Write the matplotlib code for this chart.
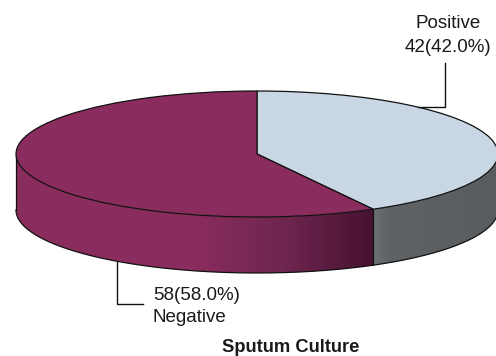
# import libraries
import numpy as np
import matplotlib.pyplot as plt
from matplotlib.colors import LinearSegmentedColormap
from matplotlib.patches import Polygon

labels = ['Positive', 'Negative']
counts = [42, 58]
chart_title = 'Sputum Culture'

TOP_COLORS = ['#c9d6e3', '#8b2c5e']
OUTLINE = '#111111'
DEPTH = 56 / 63  # rim height, in units of the vertical radius

# shading along the rim, left to right
rim_cmaps = {
    'Positive': LinearSegmentedColormap.from_list(
        'pos', [(0, '#6c7274'), (0.12, '#5f6366'), (1, '#595c5f')]),
    'Negative': LinearSegmentedColormap.from_list(
        'neg', [(0, '#8b2c5e'), (0.5, '#8a2c5d'), (0.75, '#6e2650'), (1, '#47112f')]),
}


def draw_rim(ax, start, end, cmap):
    """
    draw_rim fills the visible side of the disc between two angles (degrees)
    with a horizontal gradient clipped to the shape of the rim.
    """
    t = np.radians(np.linspace(start, end, 200))
    x, y = np.cos(t), np.sin(t)
    pts = np.r_[np.c_[x, y], np.c_[x[::-1], y[::-1] - DEPTH]]
    shape = Polygon(pts, closed=True, facecolor='none', edgecolor='none',
                    transform=ax.transData)
    ax.add_patch(shape)

    ramp = np.linspace(0, 1, 256).reshape(1, -1)
    img = ax.imshow(ramp, cmap=cmap, aspect='auto', zorder=1,
                    extent=[x.min(), x.max(), pts[:, 1].min(), pts[:, 1].max()])
    img.set_clip_path(shape)

    # outline of this part of the rim
    ax.plot(x, y - DEPTH, color=OUTLINE, lw=0.9, zorder=2)


plt.rcParams['font.family'] = ['Liberation Sans', 'DejaVu Sans']
fig = plt.figure(figsize=(4.96, 3.56), dpi=100)

# disc axes: unit circle stretched to the ellipse
ax = fig.add_axes([0, 0, 1, 1])
ax.pie(counts, startangle=90, counterclock=False, colors=TOP_COLORS,
       wedgeprops={'edgecolor': OUTLINE, 'linewidth': 0.9, 'zorder': 3})

# angle where the two slices meet, going clockwise from the top
split = 90 - 360 * counts[0] / sum(counts)
draw_rim(ax, 180, split + 360, rim_cmaps['Negative'])
draw_rim(ax, split + 360, 360, rim_cmaps['Positive'])
for x_edge in [-1, np.cos(np.radians(split)), 1]:
    y_edge = np.sin(np.radians(split)) if abs(x_edge) < 1 else 0
    ax.plot([x_edge, x_edge], [y_edge, y_edge - DEPTH], color=OUTLINE, lw=0.9, zorder=2)

ax.set_aspect('auto')
ax.set_xlim((0 - 257) / 241, (496 - 257) / 241)
ax.set_ylim((154 - 356) / 63, (154 - 0) / 63)

# overlay in pixels for the labels and leader lines
ann = fig.add_axes([0, 0, 1, 1])
ann.set_xlim(0, 496)
ann.set_ylim(356, 0)
ann.axis('off')
ann.plot([418, 445, 445], [107, 107, 63], color=OUTLINE, lw=1)
ann.plot([117, 117, 143], [262, 304, 304], color=OUTLINE, lw=1)

ann.text(448, 23.5, labels[0], ha='center', va='center', fontsize=13.5, color='#1a1a1a')
ann.text(448, 47, f'{counts[0]}({counts[0] / sum(counts) * 100:.1f}%)', ha='center',
         va='center', fontsize=13.5, color='#1a1a1a')
ann.text(153, 295.5, f'{counts[1]}({counts[1] / sum(counts) * 100:.1f}%)', ha='left',
         va='center', fontsize=13.5, color='#1a1a1a')
ann.text(153, 318, labels[1], ha='left', va='center', fontsize=13.5, color='#1a1a1a')
ann.text(290.5, 348, chart_title, ha='center', va='center', fontsize=13.2,
         fontweight='bold', color='#1a1a1a')

fig.savefig('out.png', dpi=100)
